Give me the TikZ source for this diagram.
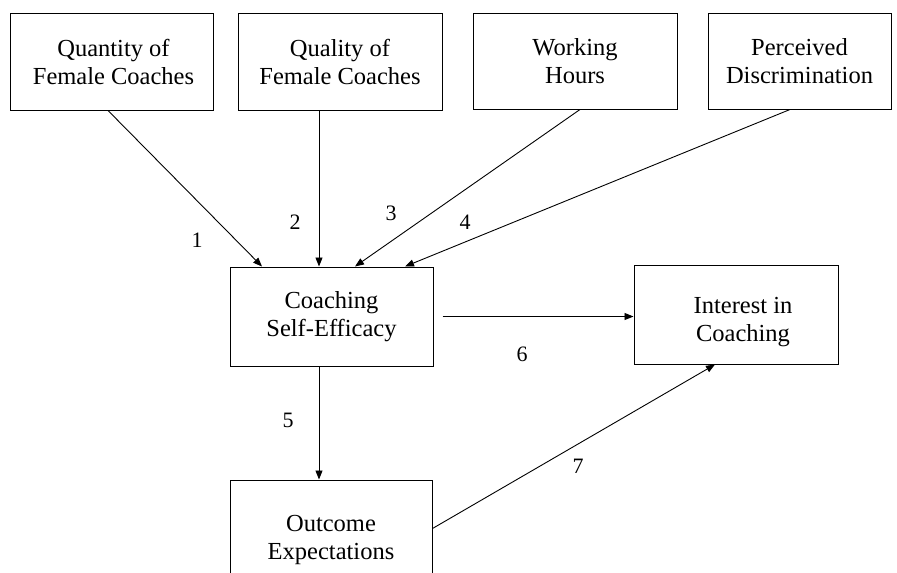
\documentclass[tikz,border=0pt]{standalone}
\usepackage{fontspec}
\setmainfont{Liberation Serif}
\usetikzlibrary{arrows.meta}
\begin{document}
\begin{tikzpicture}[x=1pt,y=-1pt,
  box/.style={draw, line width=1pt, inner sep=0pt, align=center, anchor=center,
    font=\fontsize{24.5}{28}\selectfont},
  arr/.style={line width=0.9pt, -{Triangle[length=9pt,width=7pt]}},
  num/.style={font=\fontsize{22}{24}\selectfont, inner sep=0pt}]
\useasboundingbox (0,0) rectangle (897,573);
\clip (0,0) rectangle (897,573);
\fill[white] (0,0) rectangle (897,573);
\node[box, minimum width=203pt, minimum height=97pt] (qn) at (111.5,61.5) {\hspace*{4pt}Quantity of\\\hspace*{4pt}Female Coaches};
\node[box, minimum width=204pt, minimum height=97pt] (ql) at (340,61.5) {Quality of\\Female Coaches};
\node[box, minimum width=204pt, minimum height=96pt] (wh) at (575,61) {Working\\Hours};
\node[box, minimum width=183pt, minimum height=96pt] (pd) at (799.5,61) {Perceived\\Discrimination};
\node[box, minimum width=203pt, minimum height=99pt] (se) at (331.5,316.5) {Coaching\\Self-Efficacy};
\node[box, minimum width=204pt, minimum height=99pt] (ic) at (736,314.5) {\rule{0pt}{31pt}\hspace*{14pt}Interest in\\\hspace*{14pt}Coaching};
\node[box, minimum width=202pt, minimum height=120pt] (oe) at (331,540) {Outcome\\Expectations};
\draw[arr] ([xshift=-3.5pt]qn.south) -- ([xshift=-69.5pt]se.north);
\draw[arr] ([xshift=-21pt]ql.south) -- ([xshift=-12.5pt]se.north);
\draw[arr] ([xshift=5pt]wh.south) -- ([xshift=23.5pt]se.north);
\draw[arr] ([xshift=-9.5pt]pd.south) -- ([xshift=73.5pt]se.north);
\draw[arr] ([xshift=9pt]se.east) -- (se.east -| ic.west);
\draw[arr] ([xshift=-12.5pt]se.south) -- ([xshift=-12pt]oe.north);
\draw[arr] ([yshift=-49pt]oe.north east) -- ([xshift=-21pt]ic.south);
\node[num] (l1) at (197,240) {1};
\node[num] (l2) at (295,222) {2};
\node[num] (l3) at (391,213) {3};
\node[num] (l4) at (465,222) {4};
\node[num] (l5) at (288,420) {5};
\node[num] (l6) at (522,354) {6};
\node[num] (l7) at (578,466) {7};
\end{tikzpicture}
\end{document}
